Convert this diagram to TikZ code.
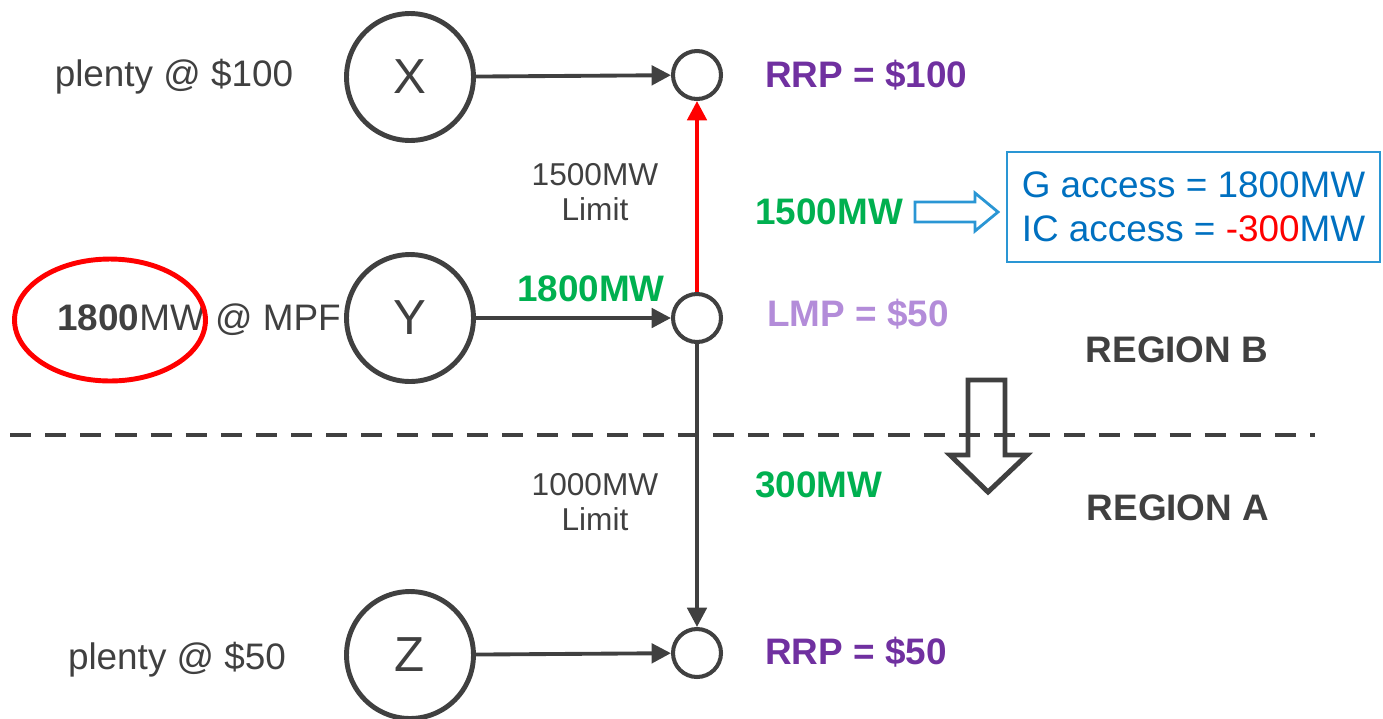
\documentclass[tikz,border=0pt]{standalone}
\usepackage{fontspec}
\setmainfont{Liberation Sans}
\usetikzlibrary{shapes,arrows.meta,positioning,calc}

\definecolor{ink}{HTML}{404040}
\definecolor{flowgreen}{HTML}{00B050}
\definecolor{pricepurple}{HTML}{7030A0}
\definecolor{lmppurple}{HTML}{B38CD9}
\definecolor{acctext}{HTML}{0070C0}
\definecolor{accline}{HTML}{2A96D4}

\begin{document}
\begin{tikzpicture}[
  x=0.02cm, y=-0.02cm,
  gen/.style={
    draw=ink, circle, line width=2.8pt, minimum size=2.54cm,
    fill=white, inner sep=0pt, text=ink, font=\fontsize{28}{30}\selectfont
  },
  bus/.style={
    draw=ink, circle, line width=2.3pt, minimum size=0.96cm,
    fill=white, inner sep=0pt
  },
  conn/.style={
    draw=ink, line width=2.2pt, -{Triangle[length=11pt,width=11pt]}
  },
  lbl/.style={text=ink, font=\fontsize{21}{25}\selectfont},
  lim/.style={text=ink, align=center, font=\fontsize{18}{20}\selectfont},
  flow/.style={text=flowgreen, font=\fontsize{21}{25}\selectfont\bfseries},
  price/.style={text=pricepurple, font=\fontsize{21}{25}\selectfont\bfseries},
  region/.style={text=ink, font=\fontsize{21}{25}\selectfont\bfseries}
]
\useasboundingbox (0,0) rectangle (1383,718);

% Left-hand offers (drawn first so the Y circle covers the end of MPF)
\node[lbl] (offX) at (174,77) {plenty @ \$100};
\node[lbl, anchor=west] (offY) at (51,320) {\textbf{1800}MW @ MPF};
\node[lbl] (offZ) at (177,660) {plenty @ \$50};
\node[draw=red, ellipse, line width=2.8pt, minimum width=3.82cm,
      minimum height=2.44cm] (hl) at (110,320) {};

% Generators and buses
\node[gen] (X) at (410,77)  {X};
\node[gen] (Y) at (410,318) {Y};
\node[gen] (Z) at (410,655) {Z};
\node[bus] (bX) at (697,75)  {};
\node[bus] (bY) at (697,318) {};
\node[bus] (bZ) at (697,653) {};

% Region boundary
\draw[ink, line width=2pt, dash pattern=on 12pt off 8pt] (10,435) -- (1315,435);

% Lines
\foreach \g in {X,Y,Z} {
  \draw[conn] (\g) -- (b\g);
}
\draw[conn, draw=red, red] (bY) -- (bX);
\draw[conn] (bY) -- (bZ);

% Flow and limit labels
\node[lim] (limB) at (595,192) {1500MW\\Limit};
\node[lim] (limA) at (595,502) {1000MW\\Limit};
\node[flow] (fY) at (591,289) {1800MW};
\node[flow, anchor=west] (fB) at (749,212) {1500MW};
\node[flow, anchor=west] (fA) at (749,485) {300MW};

% Prices
\node[price, anchor=west] (pX) at (759,75) {RRP = \$100};
\node[price, anchor=west, text=lmppurple] (pY) at (761,314) {LMP = \$50};
\node[price, anchor=west] (pZ) at (759,652) {RRP = \$50};

% Access box
\node[draw=accline, line width=1.2pt, minimum width=7.46cm, minimum height=2.2cm,
      align=left, text=acctext, font=\fontsize{21}{25}\selectfont]
  (acc) at (1193.5,207) {G access = 1800MW\\IC access = {\color{red}-300}MW};
\draw[accline, line width=1.6pt, line join=miter]
  (915,202) -- (975,202) -- (975,193) -- (998,212) -- (975,231) -- (975,222)
  -- (915,222) -- cycle;

% Direction of interconnector flow
\draw[ink, line width=2.8pt, line join=miter]
  (968,380) -- (1005,380) -- (1005,455) -- (1027,455) -- (988,492)
  -- (950,455) -- (968,455) -- cycle;

\node[region] (rB) at (1177,350) {REGION B};
\node[region] (rA) at (1178,508) {REGION A};

\end{tikzpicture}
\end{document}
